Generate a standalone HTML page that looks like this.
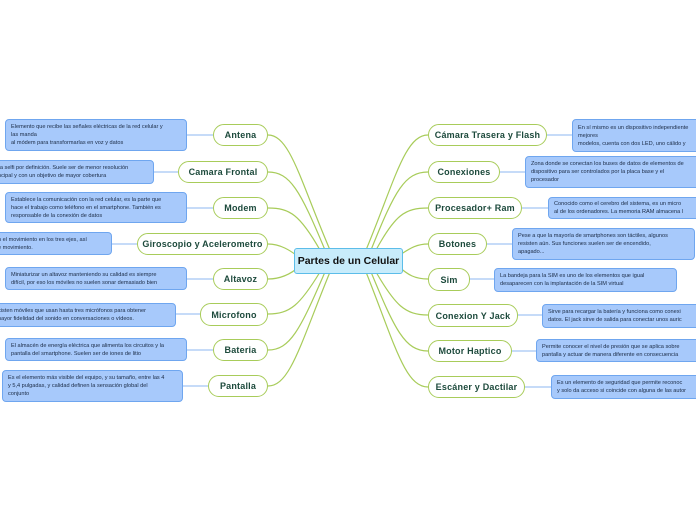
<!DOCTYPE html>
<html><head><meta charset="utf-8"><style>
body{margin:0;width:696px;height:520px;background:#fff;position:relative;overflow:hidden;font-family:"Liberation Sans",sans-serif}
.n{position:absolute;box-sizing:border-box;border:1.5px solid #a8cc5a;border-radius:11px;background:#fff;color:#1d4a3c;font-weight:bold;font-size:9px;display:flex;align-items:center;justify-content:center;white-space:nowrap;letter-spacing:0.2px}
.d{position:absolute;box-sizing:border-box;border:1px solid #6fa6ef;border-radius:4px;background:#a7c9fb;color:#1a2a44;font-size:5.6px;line-height:8px;padding:2px 5px;white-space:nowrap;overflow:hidden;display:flex;flex-direction:column;justify-content:center}
.root{position:absolute;left:294px;top:248px;width:109px;height:26px;box-sizing:border-box;border:1.5px solid #5cbde9;border-radius:3px;background:#c8ecfb;font-weight:bold;font-size:10.5px;color:#111;display:flex;align-items:center;justify-content:center}
</style></head><body>
<svg width="696" height="520" style="position:absolute;left:0;top:0">
<g fill="none" stroke="#a8cc5a" stroke-width="1.2">
<path d="M330 250 C300 180 290 135 268 135"/>
<path d="M325 250 C300 190 290 172 268 172"/>
<path d="M320 250 C300 215 290 208 268 208"/>
<path d="M300 258 C290 250 280 244 268 244"/>
<path d="M300 266 C290 275 280 279 268 279"/>
<path d="M320 272 C300 305 290 314 268 314"/>
<path d="M325 272 C300 330 290 350 268 350"/>
<path d="M330 272 C300 345 290 386 268 386"/>
<path d="M366 250 C395 180 405 135 428 135"/>
<path d="M371 250 C395 190 405 172 428 172"/>
<path d="M376 250 C395 215 405 208 428 208"/>
<path d="M398 256 C408 250 415 244 428 244"/>
<path d="M398 266 C408 275 415 279 428 279"/>
<path d="M376 272 C395 305 405 315 428 315"/>
<path d="M371 272 C395 330 405 351 428 351"/>
<path d="M366 272 C395 345 405 387 428 387"/>
</g>
<g stroke="#b4cff5" stroke-width="1.5">
<line x1="187" y1="135" x2="213" y2="135"/><line x1="154" y1="172" x2="178" y2="172"/>
<line x1="187" y1="208" x2="213" y2="208"/><line x1="112" y1="244" x2="137" y2="244"/>
<line x1="187" y1="279" x2="213" y2="279"/><line x1="176" y1="314" x2="200" y2="314"/>
<line x1="187" y1="350" x2="213" y2="350"/><line x1="183" y1="386" x2="208" y2="386"/>
<line x1="547" y1="135" x2="572" y2="135"/><line x1="500" y1="172" x2="525" y2="172"/>
<line x1="522" y1="208" x2="548" y2="208"/><line x1="487" y1="244" x2="512" y2="244"/>
<line x1="470" y1="279" x2="494" y2="279"/><line x1="518" y1="315" x2="542" y2="315"/>
<line x1="512" y1="351" x2="536" y2="351"/><line x1="525" y1="387" x2="551" y2="387"/>
</g></svg>
<div class="root">Partes de un Celular</div>

<div class="n" style="left:213px;top:124px;width:55px;height:22px">Antena</div>
<div class="n" style="left:178px;top:161px;width:90px;height:22px">Camara Frontal</div>
<div class="n" style="left:213px;top:197px;width:55px;height:22px">Modem</div>
<div class="n" style="left:137px;top:233px;width:131px;height:22px">Giroscopio y Acelerometro</div>
<div class="n" style="left:213px;top:268px;width:55px;height:22px">Altavoz</div>
<div class="n" style="left:200px;top:303px;width:68px;height:23px">Microfono</div>
<div class="n" style="left:213px;top:339px;width:55px;height:22px">Bateria</div>
<div class="n" style="left:208px;top:375px;width:60px;height:22px">Pantalla</div>

<div class="n" style="left:428px;top:124px;width:119px;height:22px">Cámara Trasera y Flash</div>
<div class="n" style="left:428px;top:161px;width:72px;height:22px">Conexiones</div>
<div class="n" style="left:428px;top:197px;width:94px;height:22px">Procesador+ Ram</div>
<div class="n" style="left:428px;top:233px;width:59px;height:22px">Botones</div>
<div class="n" style="left:428px;top:268px;width:42px;height:23px">Sim</div>
<div class="n" style="left:428px;top:304px;width:90px;height:23px">Conexion Y Jack</div>
<div class="n" style="left:428px;top:340px;width:84px;height:22px">Motor Haptico</div>
<div class="n" style="left:428px;top:376px;width:97px;height:22px">Escáner y Dactilar</div>

<div class="d" style="left:5px;top:119px;width:182px;height:32px"><span>Elemento que recibe las señales eléctricas de la red celular y</span><span>las manda</span><span>al módem para transformarlas en voz y datos</span></div>
<div class="d" style="left:-8px;top:160px;width:162px;height:24px"><span>ra selfi por definición. Suele ser de menor resolución</span><span>ncipal y con un objetivo de mayor cobertura</span></div>
<div class="d" style="left:5px;top:192px;width:182px;height:31px"><span>Establece la comunicación con la red celular, es la parte que</span><span>hace el trabajo como teléfono en el smartphone. También es</span><span>responsable de la conexión de datos</span></div>
<div class="d" style="left:-8px;top:232px;width:120px;height:23px"><span>n el movimiento en los tres ejes, así</span><span>e movimiento.</span></div>
<div class="d" style="left:5px;top:267px;width:182px;height:23px"><span>Miniaturizar un altavoz manteniendo su calidad es siempre</span><span>difícil, por eso los móviles no suelen sonar demasiado bien</span></div>
<div class="d" style="left:-8px;top:303px;width:184px;height:24px"><span>xisten móviles que usan hasta tres micrófonos para obtener</span><span>nayor fidelidad del sonido en conversaciones o vídeos.</span></div>
<div class="d" style="left:5px;top:338px;width:182px;height:23px"><span>El almacén de energía eléctrica que alimenta los circuitos y la</span><span>pantalla del smartphone. Suelen ser de iones de litio</span></div>
<div class="d" style="left:2px;top:370px;width:181px;height:32px"><span>Es el elemento más visible del equipo, y su tamaño, entre las 4</span><span>y 5,4 pulgadas, y calidad definen la sensación global del</span><span>conjunto</span></div>

<div class="d" style="left:572px;top:119px;width:140px;height:33px"><span>En sí mismo es un dispositivo independiente</span><span>mejores</span><span>modelos, cuenta con dos LED, uno cálido y</span></div>
<div class="d" style="left:525px;top:156px;width:185px;height:32px"><span>Zona donde se conectan los buses de datos de elementos de</span><span>dispositivo para ser controlados por la placa base y el</span><span>procesador</span></div>
<div class="d" style="left:548px;top:197px;width:160px;height:22px"><span>Conocido como el cerebro del sistema, es un micro</span><span>al de los ordenadores. La memoria RAM almacena l</span></div>
<div class="d" style="left:512px;top:228px;width:183px;height:32px"><span>Pese a que la mayoría de smartphones son táctiles, algunos</span><span>resisten aún. Sus funciones suelen ser de encendido,</span><span>apagado...</span></div>
<div class="d" style="left:494px;top:268px;width:183px;height:24px"><span>La bandeja para la SIM es uno de los elementos que igual</span><span>desaparecen con la implantación de la SIM virtual</span></div>
<div class="d" style="left:542px;top:304px;width:170px;height:24px"><span>Sirve para recargar la batería y funciona como conexi</span><span>datos. El jack sirve de salida para conectar unos auric</span></div>
<div class="d" style="left:536px;top:339px;width:170px;height:23px"><span>Permite conocer el nivel de presión que se aplica sobre</span><span>pantalla y actuar de manera diferente en consecuencia</span></div>
<div class="d" style="left:551px;top:375px;width:160px;height:24px"><span>Es un elemento de seguridad que permite reconoc</span><span>y solo da acceso si coincide con alguna de las autor</span></div>
</body></html>
